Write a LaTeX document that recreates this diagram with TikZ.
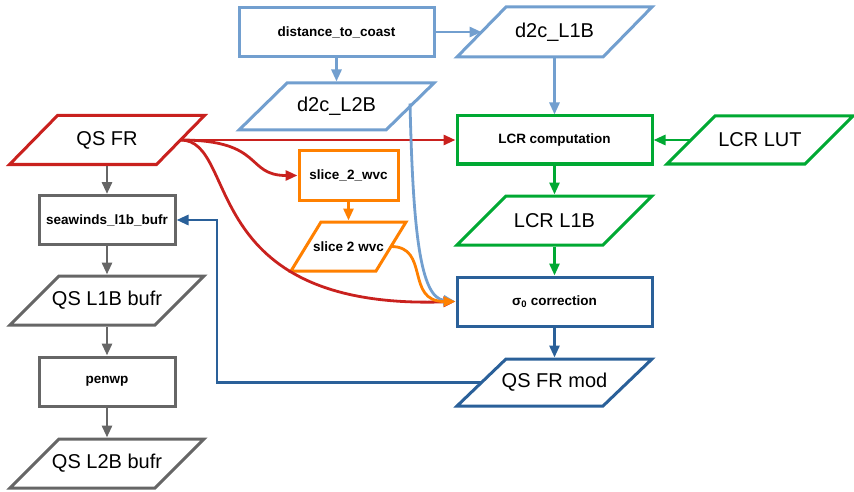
\documentclass[tikz,border=0pt]{standalone}
\usepackage{fontspec}
\setmainfont{Liberation Sans}
\usetikzlibrary{arrows.meta}
\definecolor{lblue}{HTML}{729FCF}
\definecolor{dblue}{HTML}{2A6099}
\definecolor{dred}{HTML}{C9211E}
\definecolor{dgreen}{HTML}{00A933}
\definecolor{dorange}{HTML}{FF8000}
\definecolor{dgray}{HTML}{666666}
\tikzset{
  base/.style={line width=3pt, inner sep=0pt, align=center},
  boxnode/.style={base, rectangle, fill=white, minimum height=49pt, font=\fontsize{13.5}{16}\selectfont\bfseries},
  bigtext/.style={font=\fontsize{20}{24}\selectfont},
  smalltext/.style={font=\fontsize{13.5}{16}\selectfont\bfseries},
  paraline/.style={line width=3pt, line join=miter, fill=white},
  conn/.style={line width=2.8pt, -{Triangle[length=12pt,width=10pt]}},
}
% #1 name, #2 cx, #3 cy, #4 total width, #5 height, #6 slant, #7 colour, #8 text style, #9 text
\newcommand\parall[9]{%
  \draw[paraline, draw=#7] ({#2-#4/2},{#3+#5/2}) -- ({#2+#4/2-#6},{#3+#5/2})
     -- ({#2+#4/2},{#3-#5/2}) -- ({#2-#4/2+#6},{#3-#5/2}) -- cycle;
  \node[base, #8, minimum width={#4-#6}, minimum height=#5] (#1) at (#2,#3) {#9};
  \coordinate (#1-l) at ({#2-#4/2+#6/2},#3);
  \coordinate (#1-r) at ({#2+#4/2-#6/2},#3);
}
\begin{document}
\begin{tikzpicture}[x=1pt,y=-1pt]
\useasboundingbox (0,0) rectangle (854,492);
% nodes
\node[boxnode, draw=lblue, minimum width=195pt] (dtc) at (336.5,32) {distance\_to\_coast};
\parall{d2cL2B}{336.5}{106.5}{195}{47}{48}{lblue}{bigtext}{d2c\_L2B}
\parall{d2cL1B}{554.5}{32}{195}{50}{49}{lblue}{bigtext}{d2c\_L1B}
\parall{qsfr}{107}{140}{195}{49}{48}{dred}{bigtext}{QS FR}
\node[boxnode, draw=dgray, minimum width=136pt] (swb) at (107,220) {seawinds\_l1b\_bufr};
\node[boxnode, draw=dorange, minimum width=99pt] (s2wa) at (348.5,175.5) {slice\_2\_wvc};
\parall{s2wb}{348.5}{246.5}{115}{49}{30}{dorange}{smalltext}{slice 2 wvc}
\node[boxnode, draw=dgreen, minimum width=195pt, minimum height=48pt] (lcrc) at (554.5,140) {LCR computation};
\parall{lcrlut}{760}{140}{186}{48}{48}{dgreen}{bigtext}{LCR LUT}
\parall{lcrl1b}{554.5}{220.5}{195}{49}{49}{dgreen}{bigtext}{LCR L1B}
\node[boxnode, draw=dblue, minimum width=195pt] (sig) at (554.5,301.5) {σ\textsubscript{0} correction};
\parall{qsfrmod}{554.5}{382.5}{195}{47}{49}{dblue}{bigtext}{QS FR mod}
\parall{qsl1b}{107}{300.5}{194}{49}{49}{dgray}{bigtext}{QS L1B bufr}
\node[boxnode, draw=dgray, minimum width=136pt] (penwp) at (107,381.5) {penwp};
\parall{qsl2b}{107}{463.5}{194}{49}{49}{dgray}{bigtext}{QS L2B bufr}
\coordinate (bend) at (217,300);
% connectors
\draw[conn, lblue] (dtc) -- (d2cL2B);
\draw[conn, lblue] (dtc.east) -- (d2cL1B-l);
\draw[conn, lblue] (d2cL1B) -- (lcrc);
\draw[conn, dred] (qsfr-r) -- (lcrc.west);
\draw[conn, dred] (qsfr-r) .. controls (265,140) and (245,175.5) .. (s2wa.west);
\draw[conn, dred] (qsfr-r) .. controls (240,140) and (195,310) .. (sig.west);
\draw[conn, lblue] ([yshift=3pt]d2cL2B-r) .. controls (413,230) and (420,298) .. (sig.west);
\draw[conn, dorange] (s2wa) -- (s2wb);
\draw[conn, dorange] (s2wb-r) .. controls (430,246.5) and (405,301.5) .. (sig.west);
\draw[conn, dgreen] (lcrlut-l) -- (lcrc.east);
\draw[conn, dgreen] (lcrc) -- (lcrl1b);
\draw[conn, dgreen] (lcrl1b) -- (sig);
\draw[conn, dblue] (sig) -- (qsfrmod);
\draw[conn, dblue] (qsfrmod-l) -| (bend) |- (swb.east);
\draw[conn, dgray] (qsfr) -- (swb);
\draw[conn, dgray] (swb) -- (qsl1b);
\draw[conn, dgray] (qsl1b) -- (penwp);
\draw[conn, dgray] (penwp) -- (qsl2b);
\end{tikzpicture}
\end{document}
